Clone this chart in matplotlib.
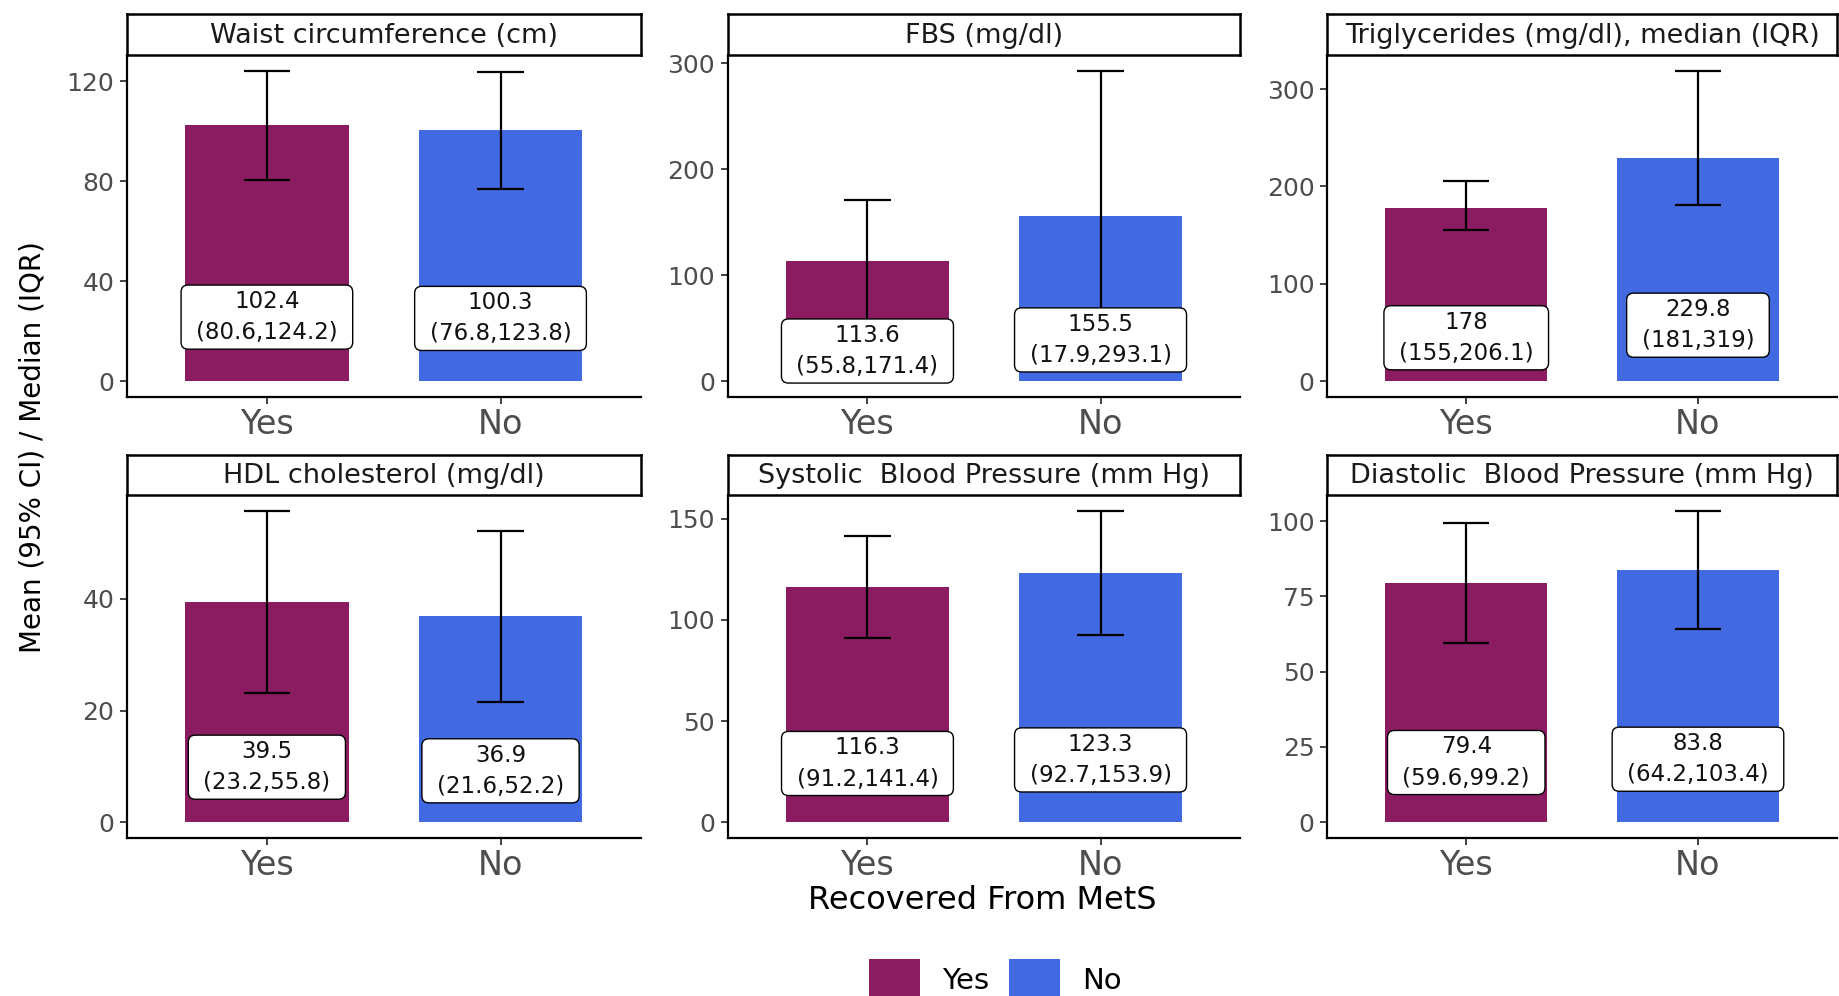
import matplotlib
matplotlib.use("Agg")
import matplotlib.pyplot as plt
from matplotlib.patches import FancyBboxPatch, Patch
from matplotlib.transforms import IdentityTransform

plt.rcParams["font.family"] = ["DejaVu Sans"]

groups = ["Yes", "No"]
group_colors = ["#8B1C62", "#4169E1"]

titles = [
    "Waist circumference (cm)",
    "FBS (mg/dl)",
    "Triglycerides (mg/dl), median (IQR)",
    "HDL cholesterol (mg/dl)",
    "Systolic  Blood Pressure (mm Hg)",
    "Diastolic  Blood Pressure (mm Hg)",
]

waist_mid = [102.4, 100.3]
waist_low = [80.6, 76.8]
waist_high = [124.2, 123.8]

fbs_mid = [113.6, 155.5]
fbs_low = [55.8, 17.9]
fbs_high = [171.4, 293.1]

tg_mid = [178, 229.8]
tg_low = [155, 181]
tg_high = [206.1, 319]

hdl_mid = [39.5, 36.9]
hdl_low = [23.2, 21.6]
hdl_high = [55.8, 52.2]

sbp_mid = [116.3, 123.3]
sbp_low = [91.2, 92.7]
sbp_high = [141.4, 153.9]

dbp_mid = [79.4, 83.8]
dbp_low = [59.6, 64.2]
dbp_high = [99.2, 103.4]

y_ticks = [
    [0, 40, 80, 120],
    [0, 100, 200, 300],
    [0, 100, 200, 300],
    [0, 20, 40],
    [0, 50, 100, 150],
    [0, 25, 50, 75, 100],
]

panels = [
    (waist_mid, waist_low, waist_high),
    (fbs_mid, fbs_low, fbs_high),
    (tg_mid, tg_low, tg_high),
    (hdl_mid, hdl_low, hdl_high),
    (sbp_mid, sbp_low, sbp_high),
    (dbp_mid, dbp_low, dbp_high),
]

W, H = 1840, 996
fig = plt.figure(figsize=(W / 100, H / 100), dpi=100)

col_left = [126.7, 727.6, 1327.2]
col_right = [640.7, 1240.4, 1837.0]
row_top = [55.2, 495.2]      # top of plotting area (px from top)
row_bottom = [396.6, 837.9]  # bottom of plotting area
strip_top = [14.1, 455.3]

tick_grey = "#4D4D4D"
label_items = []

for i, (mid, low, high) in enumerate(panels):
    r, c = divmod(i, 3)
    l = col_left[c] / W
    w = (col_right[c] - col_left[c]) / W
    b = 1 - row_bottom[r] / H
    h = (row_bottom[r] - row_top[r]) / H
    ax = fig.add_axes([l, b, w, h])

    x = [1, 2]
    ax.bar(x, mid, width=0.7, color=group_colors, zorder=1)
    for xi, lo, hi in zip(x, low, high):
        ax.plot([xi, xi], [lo, hi], color="black", lw=1.6, zorder=2,
                solid_capstyle="butt")
        for yv in (lo, hi):
            ax.plot([xi - 0.1, xi + 0.1], [yv, yv], color="black", lw=1.6,
                    zorder=2, solid_capstyle="butt")

    top = max(high)
    ax.set_ylim(-0.05 * top, 1.05 * top)
    ax.set_xlim(0.4, 2.6)
    ax.set_xticks(x)
    ax.set_xticklabels(groups)
    ax.set_yticks(y_ticks[i])
    ax.tick_params(axis="x", labelsize=24, length=5, width=1.3, pad=3,
                   color="#333333", labelcolor=tick_grey)
    ax.tick_params(axis="y", labelsize=18, length=5, width=1.3, pad=4,
                   color="#333333", labelcolor=tick_grey)
    for s in ("top", "right"):
        ax.spines[s].set_visible(False)
    for s in ("left", "bottom"):
        ax.spines[s].set_linewidth(1.6)
        ax.spines[s].set_color("black")

    for xi, m, lo, hi in zip(x, mid, low, high):
        t = ax.text(xi, m / 4, f"{m:g}\n({lo:g},{hi:g})", ha="center",
                    va="center", fontsize=16.5, color="#111111",
                    linespacing=1.45, zorder=4)
        label_items.append((ax, t))

    # facet strip
    sax = fig.add_axes([l, 1 - row_top[r] / H, w,
                        (row_top[r] - strip_top[r]) / H])
    sax.set_xticks([])
    sax.set_yticks([])
    for s in sax.spines.values():
        s.set_linewidth(1.8)
        s.set_color("black")
    sax.text(0.5, 0.47, titles[i], ha="center", va="center", fontsize=19.5,
             color="#1A1A1A", transform=sax.transAxes)

# rounded boxes behind value labels, sized from the rendered text
fig.canvas.draw()
renderer = fig.canvas.get_renderer()
hpad, vpad = 15, 5
for ax, t in label_items:
    ext = t.get_window_extent(renderer)
    box = FancyBboxPatch((ext.x0 - hpad, ext.y0 - vpad),
                         ext.width + 2 * hpad, ext.height + 2 * vpad,
                         boxstyle="round,pad=0,rounding_size=7",
                         facecolor="white", edgecolor="black", lw=1.0,
                         transform=IdentityTransform(), zorder=3,
                         clip_on=False)
    ax.add_artist(box)

fig.text(0.0174, 0.551, "Mean (95% CI) / Median (IQR)", rotation=90,
         ha="center", va="center", fontsize=20, color="black")
fig.text(0.534, 0.096, "Recovered From MetS", ha="center", va="center",
         fontsize=23, color="black")

handles = [Patch(facecolor=cc, edgecolor="none") for cc in group_colors]
fig.legend(handles, groups, loc="center", bbox_to_anchor=(0.541, 0.017),
           ncol=2, frameon=False, fontsize=21, handlelength=1.75,
           handleheight=1.75, handletextpad=0.75, columnspacing=0.7)

fig.savefig("out.png", dpi=100)
